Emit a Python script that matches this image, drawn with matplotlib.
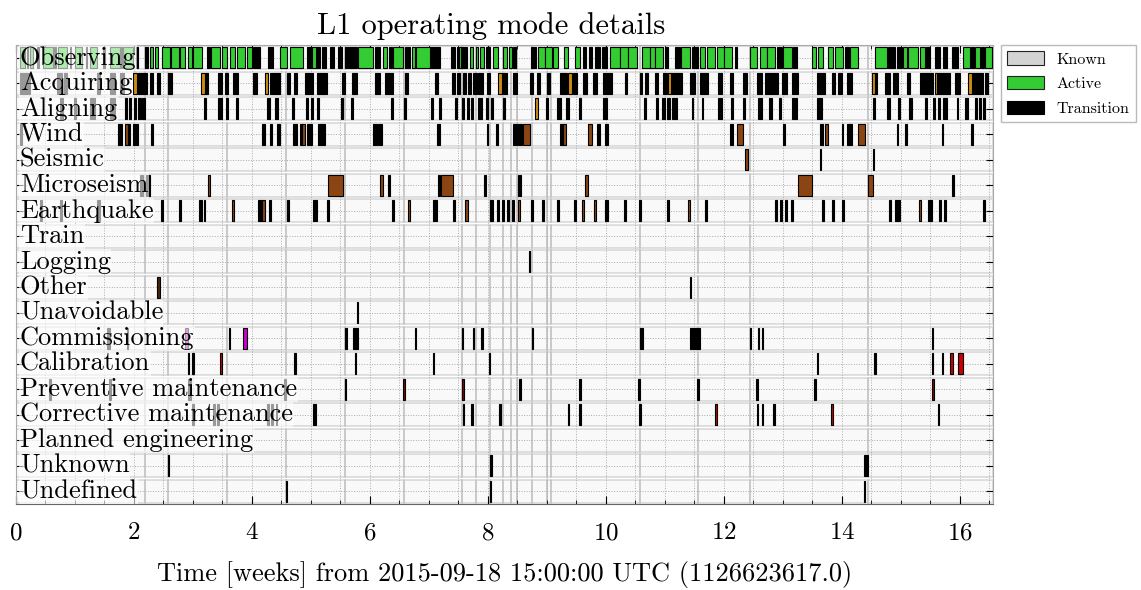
import matplotlib
matplotlib.use("Agg")
import matplotlib.pyplot as plt
from matplotlib.patches import Rectangle
from matplotlib.ticker import MultipleLocator
import matplotlib.transforms as mtransforms

plt.rcParams['font.family'] = ['cmr10', 'DejaVu Serif']
plt.rcParams['mathtext.fontset'] = 'cm'
plt.rcParams['axes.formatter.use_mathtext'] = True

title = "L1 operating mode details"
xlabel = "Time [weeks] from 2015-09-18 15:00:00 UTC (1126623617.0)"
x_end = 16.56

rows = ["Observing", "Acquiring", "Aligning", "Wind", "Seismic", "Microseism",
        "Earthquake", "Train", "Logging", "Other", "Unavoidable", "Commissioning",
        "Calibration", "Preventive maintenance", "Corrective maintenance",
        "Planned engineering", "Unknown", "Undefined"]

active_colors = ["#33cc33", "#cc8c10", "#cc8c10", "#8b4513", "#8b4513", "#8b4513",
                 "#8b4513", "#8b4513", "#8b4513", "#4a2511", "#8b4513", "#cc00cc",
                 "#cc0000", "#8b0000", "#cc0000", "#8b0000", "#333333", "#333333"]

# known segment boundaries (weeks)
known_edges = [0, 2.19, 2.58, 3.58, 4.58, 5.58, 6.58, 7.56, 7.80, 8.03, 8.25, 8.39,
               8.49, 8.75, 9.0, 9.07, 10.58, 11.56, 12.44, 14.44, x_end]

# active segments (start, end) in weeks
observing_active = [(0.07, 0.15), (0.24, 0.29), (0.46, 0.63), (0.71, 0.86), (1.0, 1.12),
    (1.25, 1.37), (1.59, 1.76), (1.81, 1.98), (2.27, 2.32), (2.36, 2.41), (2.47, 2.61),
    (2.63, 2.76), (2.78, 2.86), (2.92, 2.98), (3.0, 3.15), (3.31, 3.46), (3.49, 3.58),
    (3.63, 3.71), (3.75, 3.88), (3.92, 4.0), (4.47, 4.59), (4.64, 4.86), (5.02, 5.08),
    (5.80, 6.05), (6.22, 6.29), (6.39, 6.56), (6.71, 6.76), (6.78, 7.02), (7.51, 7.54),
    (7.69, 7.75), (7.80, 7.83), (7.86, 7.93), (8.08, 8.17), (8.25, 8.32), (8.36, 8.41),
    (8.85, 8.97), (8.97, 9.08), (9.10, 9.19), (9.29, 9.36), (9.47, 9.56), (10.07, 10.24),
    (10.24, 10.37), (10.37, 10.53), (10.61, 10.75), (10.75, 10.83), (10.83, 10.97),
    (11.27, 11.42), (11.59, 11.68), (11.71, 11.85), (11.88, 12.0), (12.0, 12.14),
    (12.44, 12.56), (12.61, 12.73), (12.73, 12.86), (13.0, 13.15), (13.49, 13.56),
    (13.59, 13.68), (13.76, 13.85), (13.88, 14.02), (14.14, 14.27), (14.56, 14.76),
    (15.03, 15.10), (15.12, 15.29), (15.32, 15.41), (16.05, 16.17), (16.25, 16.34),
    (16.42, 16.54)]
observing_trans = [(0.18, 0.21), (0.36, 0.39), (0.65, 0.68), (0.91, 0.94), (1.18, 1.21),
    (1.48, 1.51), (1.77, 1.80), (2.04, 2.07), (2.19, 2.24), (3.24, 3.29), (4.02, 4.14),
    (4.27, 4.36), (4.93, 5.02), (5.08, 5.15), (5.19, 5.25), (5.32, 5.39), (5.46, 5.53),
    (5.58, 5.78), (6.08, 6.17), (6.32, 6.37), (6.59, 6.68), (7.02, 7.19), (7.37, 7.44),
    (7.47, 7.51), (7.54, 7.64), (7.97, 8.03), (8.42, 8.47), (8.73, 8.81), (9.61, 9.66),
    (9.71, 9.76), (9.81, 9.90), (9.93, 10.02), (11.0, 11.05), (11.17, 11.25),
    (11.46, 11.56), (12.19, 12.22), (12.90, 12.98), (13.17, 13.24), (14.05, 14.12),
    (14.78, 14.90), (14.93, 15.02), (15.42, 15.49), (15.58, 15.66), (15.71, 15.78),
    (15.86, 15.97), (16.19, 16.24), (16.36, 16.41)]

acquiring_active = [(1.98, 2.05), (3.14, 3.20), (4.22, 4.27), (8.17, 8.24), (9.36, 9.42),
    (11.05, 11.10), (14.51, 14.56), (15.58, 15.61), (16.14, 16.20)]
acquiring_trans = [(0.07, 0.24), (0.70, 0.78), (0.81, 0.86), (1.37, 1.42), (1.59, 1.68),
    (1.76, 1.83), (2.07, 2.22), (2.27, 2.32), (2.39, 2.44), (2.58, 2.64), (3.20, 3.25),
    (3.42, 3.49), (3.54, 3.59), (3.68, 3.76), (4.02, 4.08), (4.31, 4.47), (4.59, 4.64),
    (4.71, 4.76), (4.90, 5.03), (5.10, 5.27), (5.53, 5.58), (5.69, 5.78), (6.08, 6.17),
    (6.25, 6.39), (6.59, 6.64), (7.10, 7.15), (7.39, 7.44), (7.47, 7.53), (7.58, 7.63),
    (7.66, 7.71), (7.75, 7.81), (7.83, 7.92), (7.98, 8.03), (8.25, 8.32), (8.42, 8.49),
    (8.71, 8.76), (8.83, 8.88), (9.0, 9.05), (9.22, 9.34), (9.44, 9.51), (9.61, 9.68),
    (9.78, 9.85), (9.95, 10.10), (10.32, 10.36), (10.58, 10.61), (10.66, 10.71),
    (10.83, 10.88), (10.97, 11.03), (11.10, 11.29), (11.42, 11.51), (11.59, 11.73),
    (11.90, 11.97), (12.10, 12.15), (12.32, 12.39), (12.56, 12.64), (12.69, 12.92),
    (12.98, 13.07), (13.15, 13.25), (13.58, 13.71), (13.83, 13.88), (13.93, 14.0),
    (14.08, 14.17), (14.56, 14.59), (14.73, 14.81), (14.86, 14.95), (15.10, 15.15),
    (15.32, 15.54), (15.61, 15.83), (15.92, 16.0), (16.20, 16.39), (16.42, 16.47)]

aligning_active = [(8.80, 8.85)]
aligning_trans = [(0.75, 0.80), (0.98, 1.02), (1.25, 1.34), (1.59, 1.68), (1.85, 1.88),
    (1.92, 1.95), (2.0, 2.03), (2.07, 2.12), (2.14, 2.19), (3.19, 3.22), (3.42, 3.49),
    (3.56, 3.59), (3.73, 3.76), (4.25, 4.31), (4.39, 4.44), (4.68, 4.71), (4.92, 4.95),
    (5.0, 5.03), (5.10, 5.13), (5.51, 5.54), (5.68, 5.71), (6.36, 6.39), (6.58, 6.61),
    (7.04, 7.07), (7.17, 7.20), (7.44, 7.47), (7.56, 7.59), (7.64, 7.67), (7.71, 7.74),
    (7.83, 7.90), (7.97, 8.0), (8.05, 8.08), (8.25, 8.29), (8.98, 9.01), (9.17, 9.24),
    (9.32, 9.37), (9.54, 9.57), (9.95, 10.02), (10.64, 10.67), (10.85, 10.88),
    (10.95, 11.0), (11.04, 11.08), (11.12, 11.20), (11.45, 11.48), (11.62, 11.65),
    (11.90, 11.97), (12.12, 12.15), (12.32, 12.36), (12.58, 12.64), (12.77, 12.81),
    (12.93, 12.96), (13.15, 13.24), (13.58, 13.66), (14.52, 14.56), (14.76, 14.81),
    (14.95, 14.98), (15.14, 15.19), (15.40, 15.44), (15.54, 15.58), (15.63, 15.66),
    (15.71, 15.78), (15.95, 15.97), (16.08, 16.14), (16.25, 16.29), (16.32, 16.36),
    (16.39, 16.42)]

wind_active = [(1.85, 1.90), (4.85, 4.90), (8.59, 8.71), (9.27, 9.32), (9.69, 9.76),
    (12.22, 12.32), (13.71, 13.76), (14.27, 14.39)]
wind_trans = [(0.07, 0.10), (1.73, 1.80), (1.90, 1.93), (1.98, 2.07), (2.29, 2.32),
    (4.17, 4.22), (4.31, 4.34), (4.42, 4.47), (4.69, 4.76), (4.81, 4.85), (4.93, 5.02),
    (5.12, 5.24), (6.05, 6.12), (6.14, 6.20), (7.14, 7.19), (7.98, 8.0), (8.14, 8.17),
    (8.42, 8.49), (8.51, 8.58), (9.22, 9.27), (9.85, 9.90), (9.98, 10.03),
    (12.10, 12.15), (13.0, 13.03), (13.63, 13.68), (14.0, 14.02), (14.08, 14.17),
    (14.93, 14.95), (15.07, 15.10), (15.69, 15.71), (16.19, 16.22)]

seismic_active = [(12.36, 12.41)]
seismic_trans = [(13.62, 13.64), (14.52, 14.54)]

microseism_active = [(3.25, 3.29), (5.29, 5.54), (6.17, 6.22), (7.20, 7.41), (9.64, 9.69),
    (13.25, 13.49), (14.44, 14.53)]
microseism_trans = [(2.10, 2.15), (2.20, 2.27), (6.30, 6.34), (7.15, 7.19), (7.94, 7.97),
    (8.51, 8.56), (15.87, 15.90)]

earthquake_active = [(3.18, 3.21), (3.66, 3.69), (4.17, 4.22), (6.64, 6.68), (7.61, 7.66),
    (8.03, 8.05), (8.51, 8.54), (9.60, 9.63), (9.80, 9.83), (11.39, 11.42), (15.31, 15.34)]
earthquake_trans = [(0.41, 0.44), (0.75, 0.78), (1.37, 1.42), (2.46, 2.49), (2.77, 2.80),
    (3.10, 3.15), (4.11, 4.17), (4.29, 4.32), (4.60, 4.63), (5.03, 5.10), (5.27, 5.30),
    (6.38, 6.41), (7.07, 7.14), (7.40, 7.44), (8.05, 8.08), (8.16, 8.19), (8.24, 8.27),
    (8.32, 8.35), (8.41, 8.44), (8.73, 8.76), (8.92, 8.95), (9.17, 9.20), (9.46, 9.49),
    (9.98, 10.03), (10.31, 10.34), (10.56, 10.59), (11.03, 11.06), (11.68, 11.71),
    (12.86, 12.90), (12.95, 12.98), (13.03, 13.07), (13.14, 13.17), (13.66, 13.69),
    (13.83, 13.86), (14.0, 14.03), (14.80, 14.83), (14.90, 14.98), (15.45, 15.53),
    (15.65, 15.68), (15.73, 15.76), (16.39, 16.42)]

train_active, train_trans = [], []
logging_active, logging_trans = [], [(8.70, 8.72)]
other_active, other_trans = [(2.39, 2.44)], [(11.42, 11.44)]
unavoidable_active, unavoidable_trans = [], [(5.78, 5.80)]
commissioning_active = [(2.86, 2.92), (3.85, 3.92)]
commissioning_trans = [(1.54, 1.59), (1.88, 1.90), (3.61, 3.63), (5.58, 5.61), (5.71, 5.80),
    (6.76, 6.78), (7.56, 7.58), (7.74, 7.76), (7.89, 7.91), (8.74, 8.76), (10.58, 10.63),
    (11.42, 11.48), (11.48, 11.53), (11.53, 11.59), (12.44, 12.46), (12.57, 12.59),
    (12.64, 12.66), (15.52, 15.54)]
calibration_active = [(3.45, 3.49), (15.69, 15.72), (15.83, 15.88), (15.97, 16.05)]
calibration_trans = [(2.91, 2.93), (2.99, 3.01), (4.72, 4.74), (5.75, 5.77), (7.06, 7.08),
    (8.01, 8.03), (13.58, 13.60), (14.55, 14.58), (15.53, 15.55)]
preventive_active = [(6.56, 6.60), (7.56, 7.60), (15.52, 15.56)]
preventive_trans = [(0.56, 0.59), (1.58, 1.61), (2.92, 2.97), (4.55, 4.58), (5.57, 5.60),
    (8.53, 8.56), (9.55, 9.58), (10.55, 10.58), (11.55, 11.58), (12.55, 12.58),
    (13.53, 13.56)]
corrective_active = [(11.84, 11.88), (13.82, 13.85)]
corrective_trans = [(2.99, 3.01), (3.34, 3.37), (3.41, 3.44), (4.26, 4.28), (4.33, 4.35),
    (4.40, 4.42), (5.03, 5.08), (7.57, 7.59), (7.72, 7.74), (8.19, 8.22), (9.35, 9.37),
    (9.55, 9.57), (10.56, 10.59), (12.56, 12.58), (12.64, 12.66), (12.83, 12.86),
    (15.62, 15.64)]
planned_active, planned_trans = [], []
unknown_active, unknown_trans = [], [(2.58, 2.60), (8.04, 8.06), (14.37, 14.44)]
undefined_active, undefined_trans = [], [(4.58, 4.60), (8.03, 8.05), (14.37, 14.39)]

actives = [observing_active, acquiring_active, aligning_active, wind_active, seismic_active,
           microseism_active, earthquake_active, train_active, logging_active, other_active,
           unavoidable_active, commissioning_active, calibration_active, preventive_active,
           corrective_active, planned_active, unknown_active, undefined_active]
transitions = [observing_trans, acquiring_trans, aligning_trans, wind_trans, seismic_trans,
               microseism_trans, earthquake_trans, train_trans, logging_trans, other_trans,
               unavoidable_trans, commissioning_trans, calibration_trans, preventive_trans,
               corrective_trans, planned_trans, unknown_trans, undefined_trans]

fig = plt.figure(figsize=(11.41, 5.90), dpi=100)
ax = fig.add_axes([16 / 1141, 1 - 504 / 590, (993 - 16) / 1141, (504 - 45) / 590])

kh = 0.92
ah = 0.84
for i, name in enumerate(rows):
    for a, b in zip(known_edges[:-1], known_edges[1:]):
        ax.add_patch(Rectangle((a, i - kh / 2), b - a, kh, facecolor=(0.83, 0.83, 0.83, 0.12),
                               edgecolor=(0.6, 0.6, 0.6, 0.35), linewidth=1.2, zorder=1))
    for a, b in transitions[i]:
        ax.add_patch(Rectangle((a, i - ah / 2), b - a, ah, facecolor='black',
                               edgecolor='black', linewidth=0.8, zorder=3))
    for a, b in actives[i]:
        ax.add_patch(Rectangle((a, i - ah / 2), b - a, ah, facecolor=active_colors[i],
                               edgecolor='black', linewidth=0.8, zorder=4))

ax.set_xlim(0, x_end)
ax.set_ylim(len(rows) - 0.5, -0.5)
ax.set_yticks(range(len(rows)))
ax.set_yticklabels([])
ax.xaxis.set_major_locator(MultipleLocator(2))
ax.xaxis.set_minor_locator(MultipleLocator(0.5))
ax.tick_params(axis='both', which='both', direction='in', top=True, right=True)
ax.tick_params(axis='x', which='major', length=6, labelsize=18, pad=13)
ax.tick_params(axis='x', which='minor', length=3)
ax.tick_params(axis='y', which='major', length=5)
ax.set_axisbelow('line')
ax.grid(True, which='both', axis='x', linestyle=':', color='#aaaaaa', linewidth=0.7)
ax.grid(True, which='major', axis='y', linestyle=':', color='#aaaaaa', linewidth=0.7)
for s in ax.spines.values():
    s.set_color('#aaaaaa')
ax.spines['bottom'].set_color('#666666')

trans = mtransforms.blended_transform_factory(ax.transAxes, ax.transData)
for i, name in enumerate(rows):
    ax.text(0.004, i, name, transform=trans, ha='left', va='center', fontsize=19,
            bbox=dict(facecolor='white', alpha=0.6, edgecolor='none', pad=0.3), zorder=6)

ax.set_title(title, fontsize=22, pad=8, x=0.486)
ax.set_xlabel(xlabel, fontsize=19, labelpad=12)

handles = [Rectangle((0, 0), 1, 1, facecolor='lightgray', edgecolor='#222222', linewidth=0.8),
           Rectangle((0, 0), 1, 1, facecolor='#33cc33', edgecolor='#222222', linewidth=0.8),
           Rectangle((0, 0), 1, 1, facecolor='black', edgecolor='black', linewidth=0.8)]
leg = ax.legend(handles, ["Known", "Active", "Transition"], loc='upper left',
                bbox_to_anchor=(1.008, 1.0), fontsize=11.5, fancybox=False,
                edgecolor='#aaaaaa', handlelength=2.3, handleheight=0.9,
                borderaxespad=0.0, labelspacing=0.6, handletextpad=0.8)

fig.savefig("out.png", dpi=100)
